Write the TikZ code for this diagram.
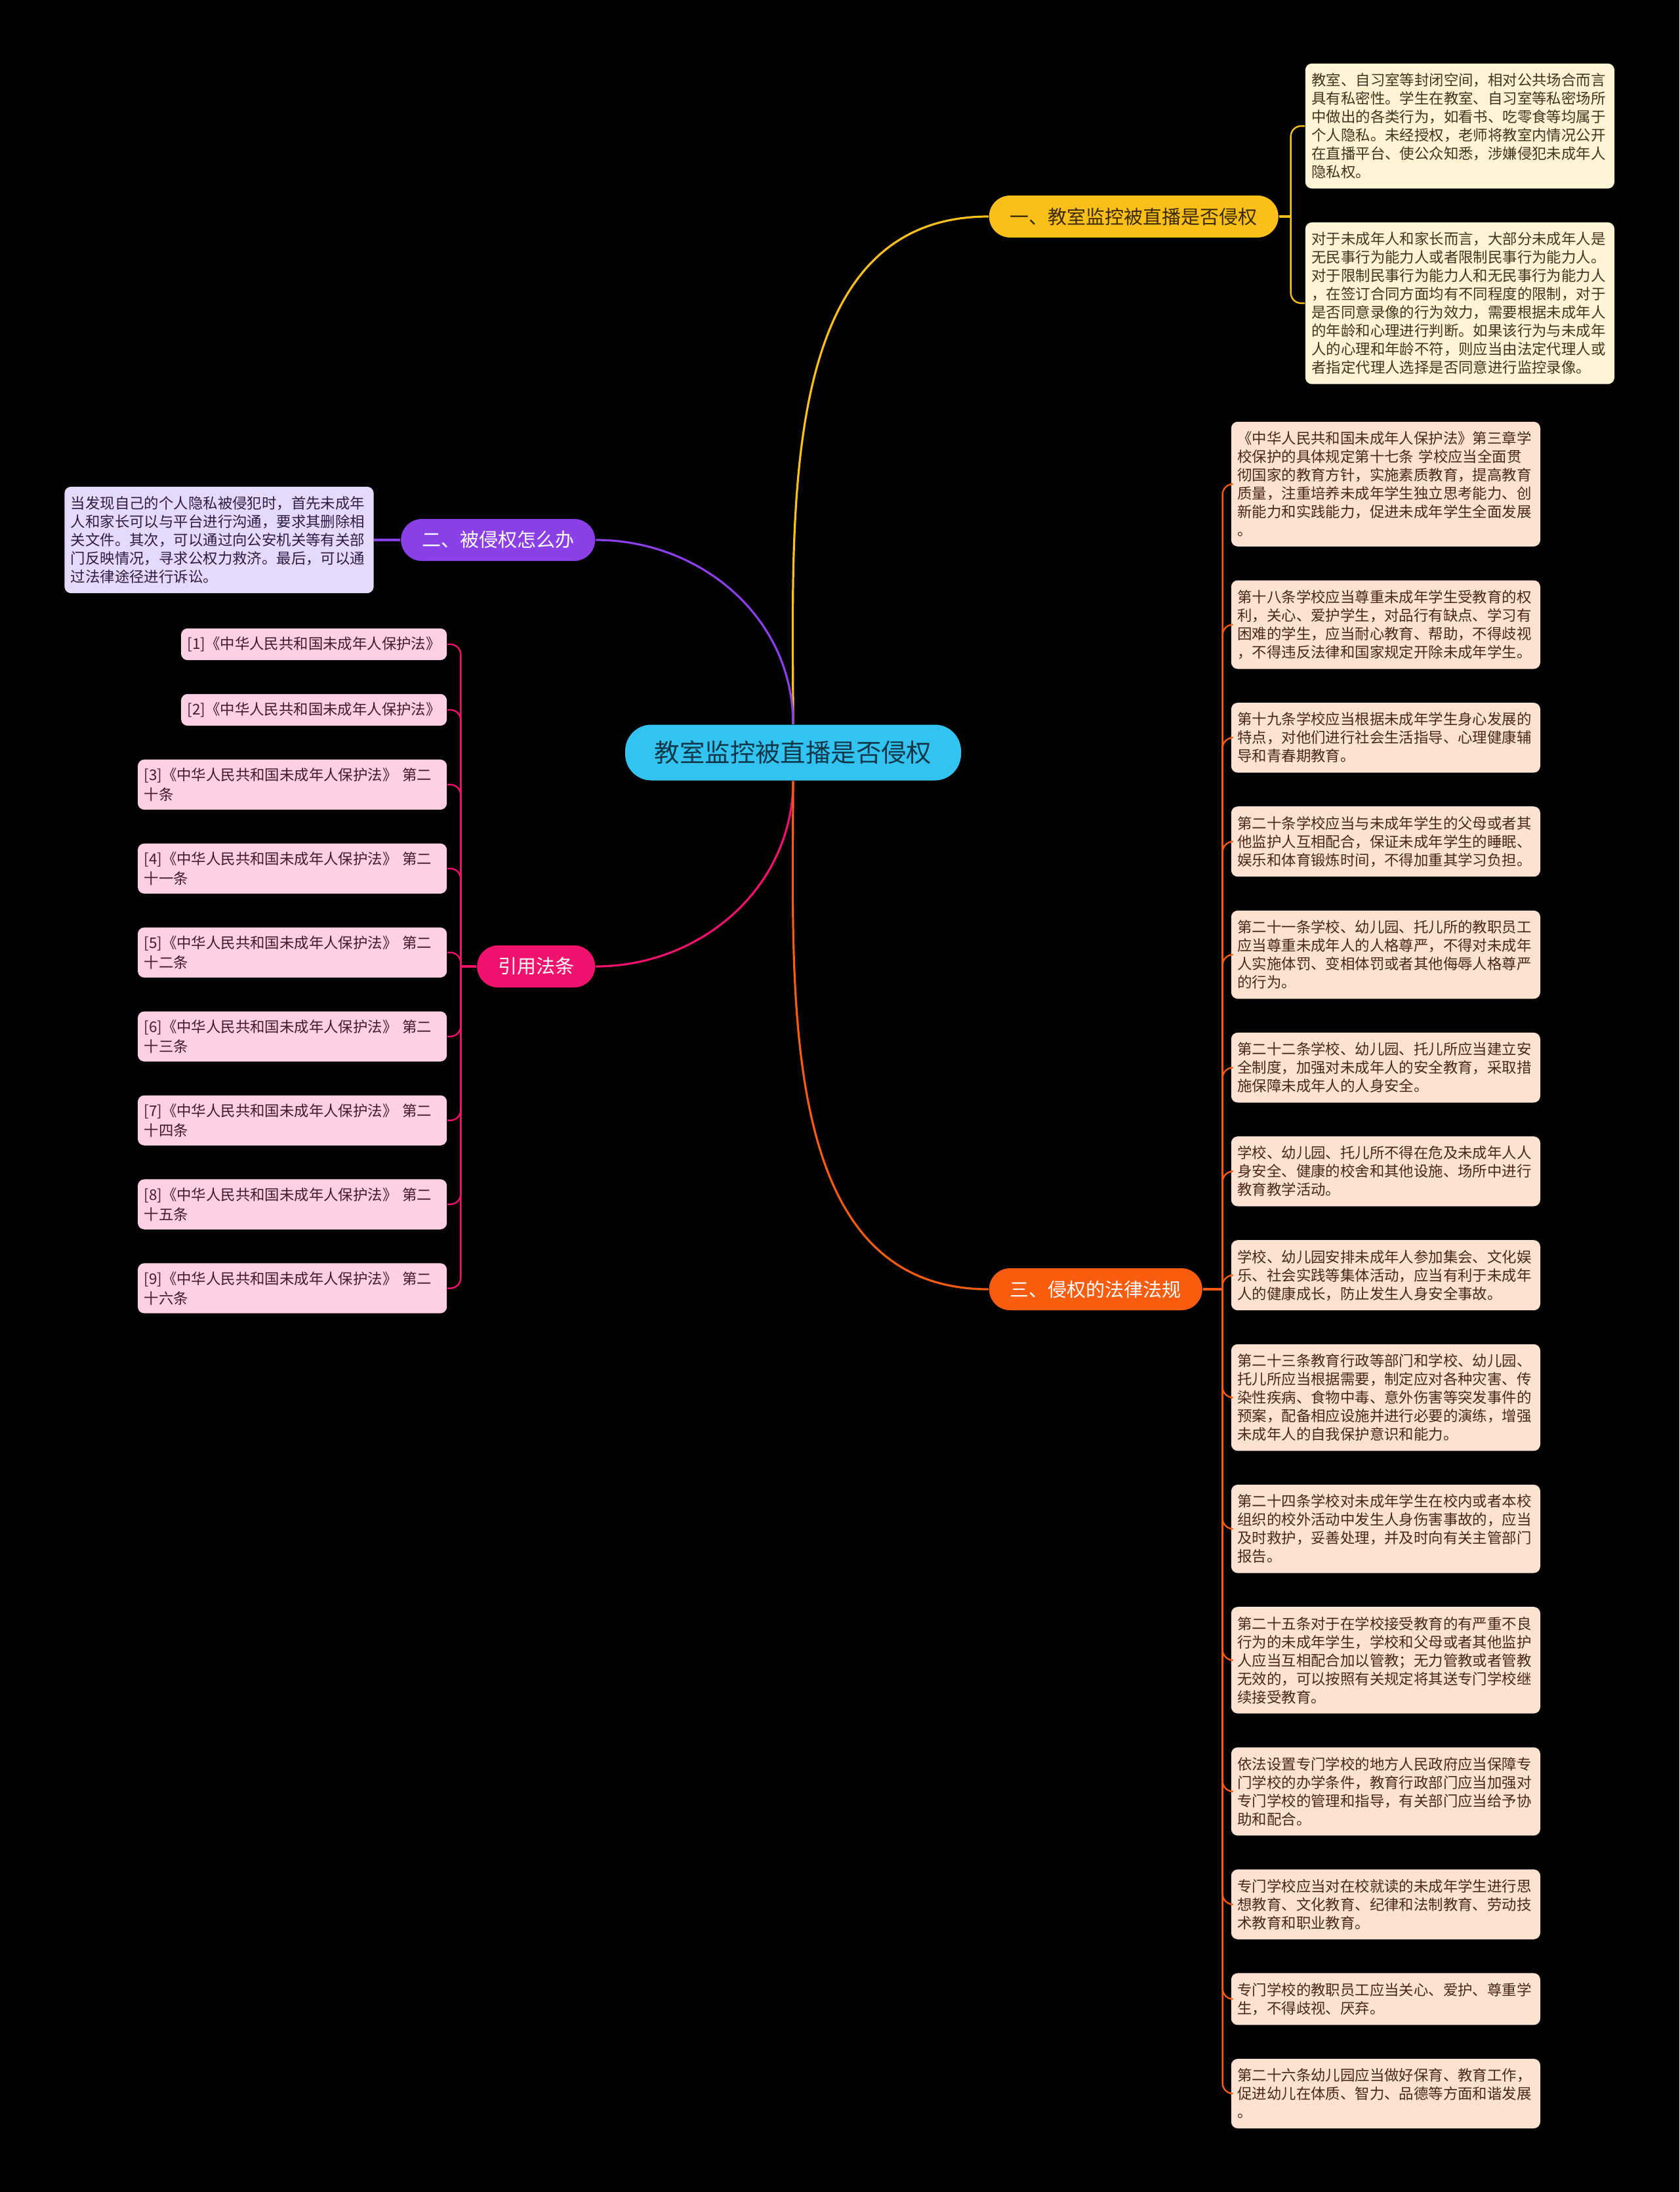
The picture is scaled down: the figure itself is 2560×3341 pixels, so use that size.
\documentclass[tikz,border=0pt]{standalone}
\usepackage{fontspec}
\setmainfont{Noto Sans CJK SC}
\usepackage{xcolor}
\usepackage{tikz}
\usetikzlibrary{positioning}
\definecolor{hgrund}{HTML}{000000}
\definecolor{mittefarbe}{HTML}{33C3F0}
\definecolor{mittetext}{HTML}{10384A}
\definecolor{astgelb}{HTML}{FBBF1A}
\definecolor{gelbtext}{HTML}{3A2A05}
\definecolor{astlila}{HTML}{8B3FE6}
\definecolor{astrot}{HTML}{F0126C}
\definecolor{astorange}{HTML}{F75C0F}
\definecolor{creme}{HTML}{FFF4D4}
\definecolor{cremetext}{HTML}{3F3520}
\definecolor{flieder}{HTML}{E6DAFA}
\definecolor{fliedertext}{HTML}{2C1D47}
\definecolor{rosa}{HTML}{FFD0E4}
\definecolor{rosatext}{HTML}{45182E}
\definecolor{pfirsich}{HTML}{FDE2D2}
\definecolor{pfirsichtext}{HTML}{4A2818}
\newcommand\mittefont{\fontsize{9.6pt}{11pt}\selectfont}
\newcommand\astfont{\fontsize{7.25pt}{8pt}\selectfont}
\newcommand\blattfont{\fontsize{5.6pt}{7pt}\selectfont}
\newcommand\quellfont{\fontsize{5.6pt}{7.5pt}\selectfont}
\tikzset{
  Mitte/.style={fill=mittefarbe, text=mittetext, rounded corners=10pt, minimum height=21.25pt, minimum width=128pt, inner ysep=0pt, font=\mittefont}, % Thema
  Ast/.style={fill=#1, rounded corners=8pt, minimum height=16pt, inner xsep=8pt, inner ysep=0pt, font=\astfont}, % Hauptaeste
  Blatt/.style={fill=#1, rounded corners=2.5pt, text width=113pt, align=left, inner xsep=2.4pt, inner ysep=3.7pt, font=\blattfont}, % Textkaesten
  Quelle/.style={fill=rosa, text=rosatext, rounded corners=2.5pt, align=left, inner xsep=2.4pt, inner ysep=3.2pt, font=\quellfont}, % Fundstellen
  Linie/.style={draw=#1, line width=0.8pt},
  Haken/.style={draw=#1, line width=0.6pt, rounded corners=4pt}
}
\begin{document}
\begin{tikzpicture}[x=0.25pt, y=-0.25pt]
%Hintergrund
\fill[hgrund] (0,0) rectangle (2560,3341);
\useasboundingbox (0,0) rectangle (2560,3341);

%Thema und Aeste
\node[Mitte] (mitte) at (1209,1147) {教室监控被直播是否侵权};
\node[Ast=astgelb, text=gelbtext, anchor=west] (ast1) at (1507,330) {一、教室监控被直播是否侵权};
\node[Ast=astlila, text=white, anchor=east] (ast2) at (908,823) {二、被侵权怎么办};
\node[Ast=astrot, text=white, anchor=east] (ast4) at (908,1473) {引用法条};
\node[Ast=astorange, text=white, anchor=west] (ast3) at (1507,1965) {三、侵权的法律法规};

%Ast 1
\node[Blatt=creme, text=cremetext, anchor=north west] (a1) at (1989,96) {教室、自习室等封闭空间，相对公共场合而言\\具有私密性。学生在教室、自习室等私密场所\\中做出的各类行为，如看书、吃零食等均属于\\个人隐私。未经授权，老师将教室内情况公开\\在直播平台、使公众知悉，涉嫌侵犯未成年人\\隐私权。};
\node[Blatt=creme, text=cremetext, below=12.5pt of a1] (a2) {对于未成年人和家长而言，大部分未成年人是\\无民事行为能力人或者限制民事行为能力人。\\对于限制民事行为能力人和无民事行为能力人\\，在签订合同方面均有不同程度的限制，对于\\是否同意录像的行为效力，需要根据未成年人\\的年龄和心理进行判断。如果该行为与未成年\\人的心理和年龄不符，则应当由法定代理人或\\者指定代理人选择是否同意进行监控录像。};

%Ast 2
\node[Blatt=flieder, text=fliedertext, left=10pt of ast2] (b1) {当发现自己的个人隐私被侵犯时，首先未成年\\人和家长可以与平台进行沟通，要求其删除相\\关文件。其次，可以通过向公安机关等有关部\\门反映情况，寻求公权力救济。最后，可以通\\过法律途径进行诉讼。};

%Fundstellen
\node[Quelle, anchor=north east] (q1) at (682,957) {[1]《中华人民共和国未成年人保护法》};
\node[Quelle, below=12.5pt of q1.south east, anchor=north east] (q2) {[2]《中华人民共和国未成年人保护法》};
\foreach \n/\t in {3/十条,4/十一条,5/十二条,6/十三条,7/十四条,8/十五条,9/十六条}{
  \pgfmathtruncatemacro\p{\n-1}
  \node[Quelle, text width=113pt, below=12.5pt of q\p.south east, anchor=north east] (q\n) {[\n]《中华人民共和国未成年人保护法》 第二\\\t};
}

%Ast 3
\node[Blatt=pfirsich, text=pfirsichtext, anchor=north west] (c1) at (1876,642) {《中华人民共和国未成年人保护法》第三章学\\校保护的具体规定第十七条 学校应当全面贯\\彻国家的教育方针，实施素质教育，提高教育\\质量，注重培养未成年学生独立思考能力、创\\新能力和实践能力，促进未成年学生全面发展\\。};
\node[Blatt=pfirsich, text=pfirsichtext, below=12.5pt of c1] (c2) {第十八条学校应当尊重未成年学生受教育的权\\利，关心、爱护学生，对品行有缺点、学习有\\困难的学生，应当耐心教育、帮助，不得歧视\\，不得违反法律和国家规定开除未成年学生。};
\node[Blatt=pfirsich, text=pfirsichtext, below=12.5pt of c2] (c3) {第十九条学校应当根据未成年学生身心发展的\\特点，对他们进行社会生活指导、心理健康辅\\导和青春期教育。};
\node[Blatt=pfirsich, text=pfirsichtext, below=12.5pt of c3] (c4) {第二十条学校应当与未成年学生的父母或者其\\他监护人互相配合，保证未成年学生的睡眠、\\娱乐和体育锻炼时间，不得加重其学习负担。};
\node[Blatt=pfirsich, text=pfirsichtext, below=12.5pt of c4] (c5) {第二十一条学校、幼儿园、托儿所的教职员工\\应当尊重未成年人的人格尊严，不得对未成年\\人实施体罚、变相体罚或者其他侮辱人格尊严\\的行为。};
\node[Blatt=pfirsich, text=pfirsichtext, below=12.5pt of c5] (c6) {第二十二条学校、幼儿园、托儿所应当建立安\\全制度，加强对未成年人的安全教育，采取措\\施保障未成年人的人身安全。};
\node[Blatt=pfirsich, text=pfirsichtext, below=12.5pt of c6] (c7) {学校、幼儿园、托儿所不得在危及未成年人人\\身安全、健康的校舍和其他设施、场所中进行\\教育教学活动。};
\node[Blatt=pfirsich, text=pfirsichtext, below=12.5pt of c7] (c8) {学校、幼儿园安排未成年人参加集会、文化娱\\乐、社会实践等集体活动，应当有利于未成年\\人的健康成长，防止发生人身安全事故。};
\node[Blatt=pfirsich, text=pfirsichtext, below=12.5pt of c8] (c9) {第二十三条教育行政等部门和学校、幼儿园、\\托儿所应当根据需要，制定应对各种灾害、传\\染性疾病、食物中毒、意外伤害等突发事件的\\预案，配备相应设施并进行必要的演练，增强\\未成年人的自我保护意识和能力。};
\node[Blatt=pfirsich, text=pfirsichtext, below=12.5pt of c9] (c10) {第二十四条学校对未成年学生在校内或者本校\\组织的校外活动中发生人身伤害事故的，应当\\及时救护，妥善处理，并及时向有关主管部门\\报告。};
\node[Blatt=pfirsich, text=pfirsichtext, below=12.5pt of c10] (c11) {第二十五条对于在学校接受教育的有严重不良\\行为的未成年学生，学校和父母或者其他监护\\人应当互相配合加以管教；无力管教或者管教\\无效的，可以按照有关规定将其送专门学校继\\续接受教育。};
\node[Blatt=pfirsich, text=pfirsichtext, below=12.5pt of c11] (c12) {依法设置专门学校的地方人民政府应当保障专\\门学校的办学条件，教育行政部门应当加强对\\专门学校的管理和指导，有关部门应当给予协\\助和配合。};
\node[Blatt=pfirsich, text=pfirsichtext, below=12.5pt of c12] (c13) {专门学校应当对在校就读的未成年学生进行思\\想教育、文化教育、纪律和法制教育、劳动技\\术教育和职业教育。};
\node[Blatt=pfirsich, text=pfirsichtext, below=12.5pt of c13] (c14) {专门学校的教职员工应当关心、爱护、尊重学\\生，不得歧视、厌弃。};
\node[Blatt=pfirsich, text=pfirsichtext, below=12.5pt of c14] (c15) {第二十六条幼儿园应当做好保育、教育工作，\\促进幼儿在体质、智力、品德等方面和谐发展\\。};

%Linien vom Thema
\draw[Linie=astgelb] (mitte.north) to[out=90,in=180] (ast1.west);
\draw[Linie=astlila] (mitte.north) to[out=90,in=0] (ast2.east);
\draw[Linie=astrot] (mitte.south) to[out=-90,in=0] (ast4.east);
\draw[Linie=astorange] (mitte.south) to[out=-90,in=180] (ast3.west);

%Linien zu den Kaesten
\draw[Linie=astgelb] (ast1.east) -- ++(18,0) coordinate (j1);
\foreach \k in {a1,a2} \draw[Haken=astgelb] (j1) |- (\k.west);
\draw[Linie=astlila] (ast2.west) -- (b1.east);
\draw[Linie=astrot] (ast4.west) -- ++(-24,0) coordinate (j4);
\foreach \k in {1,...,9} \draw[Haken=astrot] (j4) |- (q\k.east);
\draw[Linie=astorange] (ast3.east) -- ++(30,0) coordinate (j3);
\foreach \k in {1,...,15} \draw[Haken=astorange] (j3) |- (c\k.west);

\end{tikzpicture}
\end{document}
